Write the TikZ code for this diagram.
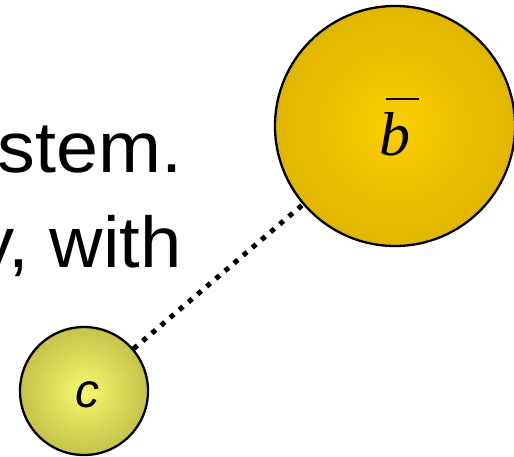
\documentclass[tikz,border=0pt]{standalone}
\usepackage{fontspec}
\setmainfont{Liberation Sans}
\newfontfamily\serifit{Liberation Serif}[ItalicFont={* Italic}]
\definecolor{goldC}{RGB}{252,206,0}
\definecolor{goldE}{RGB}{198,158,0}
\definecolor{oliveC}{RGB}{248,248,110}
\definecolor{oliveE}{RGB}{145,141,40}
\pgfdeclareradialshading{goldball}{\pgfpoint{0bp}{0bp}}{color(0bp)=(goldC); color(50bp)=(goldE)}
\pgfdeclareradialshading{oliveball}{\pgfpoint{0bp}{0bp}}{color(0bp)=(oliveC); color(50bp)=(oliveE)}
\tikzset{
  ball/.style={circle, draw=black, line width=2.3pt, inner sep=0pt},
  dotline/.style={line width=5pt, dash pattern=on 5pt off 7pt},
  bigtext/.style={font=\fontsize{72}{84}\selectfont, inner sep=0pt, anchor=base east},
}
\begin{document}
\begin{tikzpicture}[x=1pt,y=-1pt]
\useasboundingbox (0,0) rectangle (514,456);
\node[bigtext] (t1) at (183,172) {\scalebox{1.05}[1]{stem.}};
\node[bigtext] (t2) at (182,267) {\scalebox{1.03}[1]{y, with}};
\node[ball, shading=goldball, minimum size=240pt] (b) at (395,126) {};
\node[ball, shading=oliveball, minimum size=128pt] (c) at (84,391) {};
\draw[dotline] (c) -- (b);
\node[anchor=base, inner sep=0pt, font=\fontsize{62}{70}\serifit\itshape] (bl) at (395,155)
  {\rlap{\kern6pt\raisebox{55pt}{\rule{33pt}{2.3pt}}}b};
\node[anchor=base, inner sep=0pt, font=\fontsize{48}{56}\selectfont\itshape] (cl) at (87,407) {c};
\end{tikzpicture}
\end{document}
